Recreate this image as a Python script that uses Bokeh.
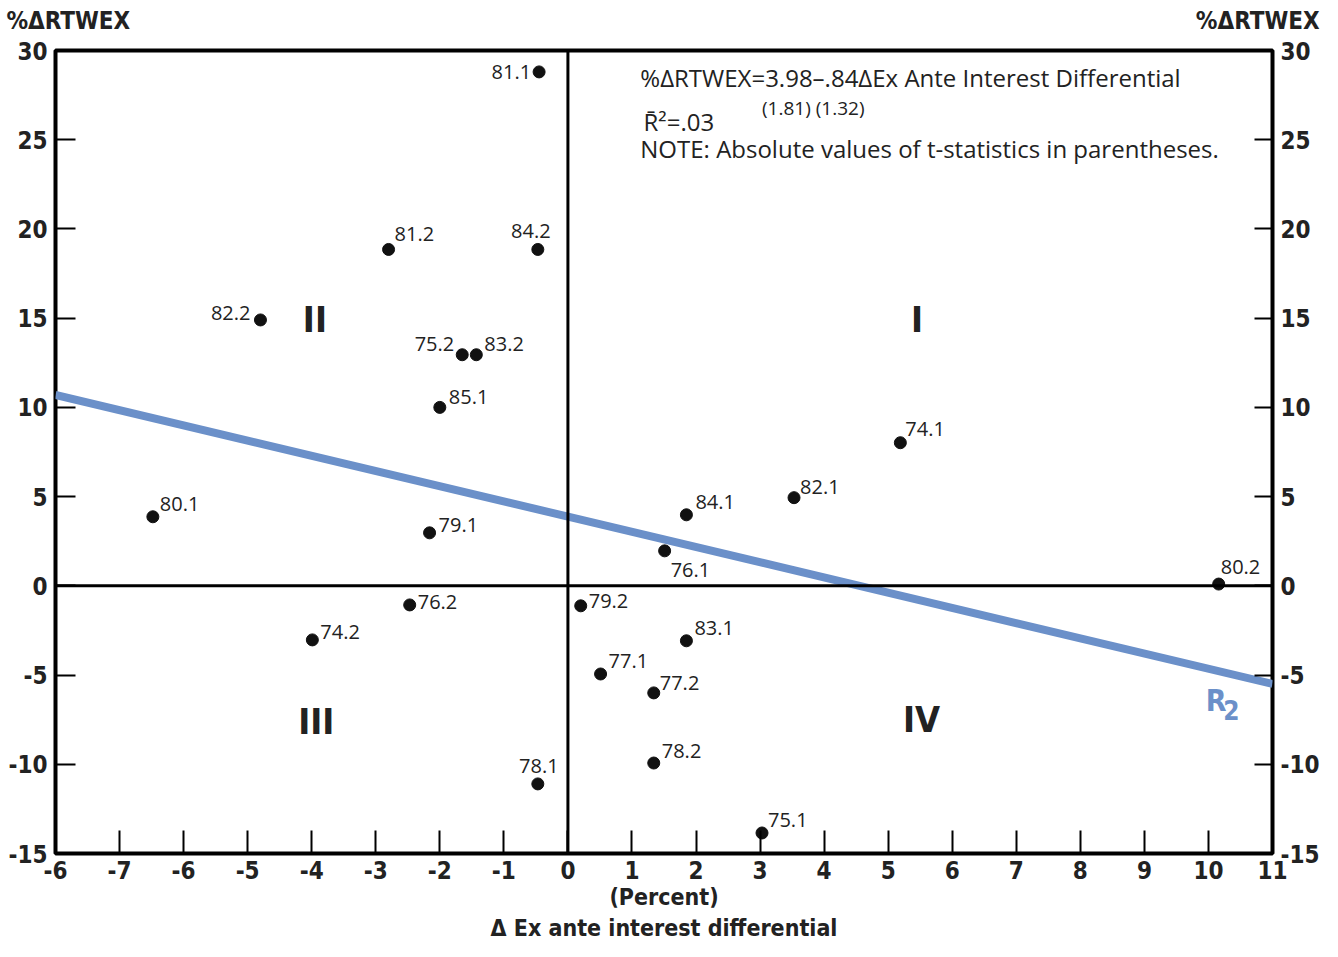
from bokeh.plotting import figure
from bokeh.models import FixedTicker, LinearAxis, Span, Label, ColumnDataSource, Title
from bokeh.embed import file_html
from bokeh.resources import INLINE
from bokeh.core.properties import value

# ---- data ----
obs_labels = ["81.1", "81.2", "84.2", "82.2", "75.2", "83.2", "85.1", "80.1", "79.1",
              "74.1", "82.1", "84.1", "76.1", "80.2", "76.2", "74.2", "79.2", "83.1",
              "77.1", "77.2", "78.2", "78.1", "75.1"]
x_vals = [-0.45, -2.80, -0.47, -4.80, -1.65, -1.43, -2.00, -6.48, -2.16,
          5.19, 3.53, 1.85, 1.51, 10.16, -2.47, -3.99, 0.20, 1.85,
          0.51, 1.34, 1.34, -0.47, 3.03]
y_vals = [28.8, 18.85, 18.85, 14.9, 12.95, 12.95, 10.0, 3.87, 2.97,
          8.02, 4.94, 3.98, 1.96, 0.1, -1.07, -3.03, -1.12, -3.08,
          -4.94, -6.0, -9.93, -11.1, -13.85]

line_x = [-8, 11]
line_y = [10.7, -5.5]

x_ticks = list(range(-8, 12))
x_tick_labels = ["-6", "-7", "-6", "-5", "-4", "-3", "-2", "-1", "0", "1", "2", "3",
                 "4", "5", "6", "7", "8", "9", "10", "11"]
y_ticks = [-15, -10, -5, 0, 5, 10, 15, 20, 25, 30]
y_tick_labels = ["-15", "-10", "-5", "0", "5", "10", "15", "20", "25", "30"]

y_title = "%\u0394RTWEX"
x_title_1 = "(Percent)"
x_title_2 = "\u0394 Ex ante interest differential"

quadrants = ["I", "II", "III", "IV"]
quad_x = [5.45, -3.95, -3.93, 5.52]
quad_y = [14.9, 14.9, -7.6, -7.5]

# ---- label placement (style: pixel offsets and alignment) ----
label_style = {
    "81.1": (-8, 0, "right"), "81.2": (6, -15, "left"), "84.2": (-7, -18, "center"),
    "82.2": (-10, -7, "right"), "75.2": (-8, -11, "right"), "83.2": (8, -11, "left"),
    "85.1": (9, -10, "left"), "80.1": (7, -13, "left"), "79.1": (9, -8, "left"),
    "74.1": (5, -14, "left"), "82.1": (6, -11, "left"), "84.1": (9, -13, "left"),
    "76.1": (6, 19, "left"), "80.2": (2, -17, "left"), "76.2": (8, -3, "left"),
    "74.2": (8, -8, "left"), "79.2": (8, -5, "left"), "83.1": (8, -13, "left"),
    "77.1": (8, -13, "left"), "77.2": (6, -10, "left"), "78.2": (8, -12, "left"),
    "78.1": (1, -18, "center"), "75.1": (6, -13, "left"),
}

BOLD_FONT = "DejaVu Sans Condensed"
TEXT_FONT = "Open Sans"
BLUE = "#6b90c9"
INK = "#222222"

p = figure(width=1322, height=941, x_range=(-8, 11), y_range=(-15, 30),
           output_backend="svg", toolbar_location=None,
           min_border_left=55, min_border_right=47, min_border_top=50, min_border_bottom=88)
p.grid.visible = False
p.outline_line_color = "black"
p.outline_line_width = 4
p.background_fill_color = "white"
p.border_fill_color = "white"

# axes
xa = p.xaxis[0]
xa.ticker = FixedTicker(ticks=x_ticks)
xa.major_label_overrides = {t: l for t, l in zip(x_ticks, x_tick_labels)}
xa.major_tick_in = 23
xa.major_tick_out = 0
xa.major_label_standoff = 7
xa.axis_label = x_title_1
xa.axis_label_standoff = 2
xa.axis_label_text_font = BOLD_FONT
xa.axis_label_text_font_style = "bold"
xa.axis_label_text_font_size = "23px"
xa.axis_label_text_color = INK

ya = p.yaxis[0]
ya.ticker = FixedTicker(ticks=y_ticks)
ya.major_label_overrides = {t: l for t, l in zip(y_ticks, y_tick_labels)}
ya.major_tick_in = 20
ya.major_tick_out = 0
ya.major_label_standoff = 8

yr = LinearAxis(ticker=FixedTicker(ticks=y_ticks),
                major_label_overrides={t: l for t, l in zip(y_ticks, y_tick_labels)})
yr.major_tick_in = 18
yr.major_tick_out = 0
yr.major_label_standoff = 8
p.add_layout(yr, "right")

# y-axis titles at the two top corners (tick labels of a bare top axis)
title_pos = [-7.80, 10.77]
ta = LinearAxis(ticker=FixedTicker(ticks=title_pos),
                major_label_overrides={t: y_title for t in title_pos})
ta.major_tick_in = 0
ta.major_tick_out = 0
ta.major_tick_line_color = None
ta.major_label_standoff = 16
p.add_layout(ta, "above")

for ax in (xa, ya, yr, ta):
    ax.axis_line_color = None
    ax.minor_tick_line_color = None
    if ax is not ta:
        ax.major_tick_line_color = "black"
        ax.major_tick_line_width = 2
    ax.major_label_text_font = BOLD_FONT
    ax.major_label_text_font_style = "bold"
    ax.major_label_text_font_size = "24px"
    ax.major_label_text_color = INK

p.add_layout(Title(text=x_title_2, align="center", text_font=BOLD_FONT,
                   text_font_style="bold", text_font_size="23px", text_color=INK,
                   standoff=0), "below")

# quadrant axes
p.add_layout(Span(location=0, dimension="width", line_color="black", line_width=3))
p.add_layout(Span(location=0, dimension="height", line_color="black", line_width=3))

# regression line
p.line(line_x, line_y, line_color=BLUE, line_width=8)

# points
src = ColumnDataSource(dict(
    x=x_vals, y=y_vals, label=obs_labels,
    dx=[label_style[k][0] for k in obs_labels],
    dy=[label_style[k][1] for k in obs_labels],
    align=[label_style[k][2] for k in obs_labels],
))
p.scatter("x", "y", source=src, size=12, color="#111111")
p.text("x", "y", text="label", source=src, x_offset="dx", y_offset="dy",
       text_align="align", text_baseline="middle", text_font=value(TEXT_FONT),
       text_font_size="20px", text_color=INK)

# quadrant labels
p.text(quad_x, quad_y, text=quadrants, text_align="center", text_baseline="middle",
       text_font=value(BOLD_FONT), text_font_style="bold", text_font_size="36px",
       text_color=INK)

# equation block
eq_kw = dict(text_font=TEXT_FONT, text_font_size="24px", text_color=INK,
             text_baseline="middle")
p.add_layout(Label(x=1.13, y=28.5, text="%\u0394RTWEX=3.98\u2013.84\u0394Ex Ante Interest Differential", **eq_kw))
p.add_layout(Label(x=1.18, y=26.0, text="R\u0304\u00b2=.03", **eq_kw))
p.add_layout(Label(x=3.03, y=26.8, text="(1.81) (1.32)", text_font=TEXT_FONT,
                   text_font_size="19px", text_color=INK, text_baseline="middle"))
p.add_layout(Label(x=1.13, y=24.5, text="NOTE: Absolute values of t-statistics in parentheses.", **eq_kw))

# R2 label
p.add_layout(Label(x=10.12, y=-6.45, text="R", text_font=BOLD_FONT, text_font_style="bold",
                   text_font_size="30px", text_color=BLUE, text_align="center",
                   text_baseline="middle"))
p.add_layout(Label(x=10.36, y=-6.95, text="2", text_font=BOLD_FONT, text_font_style="bold",
                   text_font_size="26px", text_color=BLUE, text_align="center",
                   text_baseline="middle"))

open("out.html", "w").write(file_html(p, INLINE))
